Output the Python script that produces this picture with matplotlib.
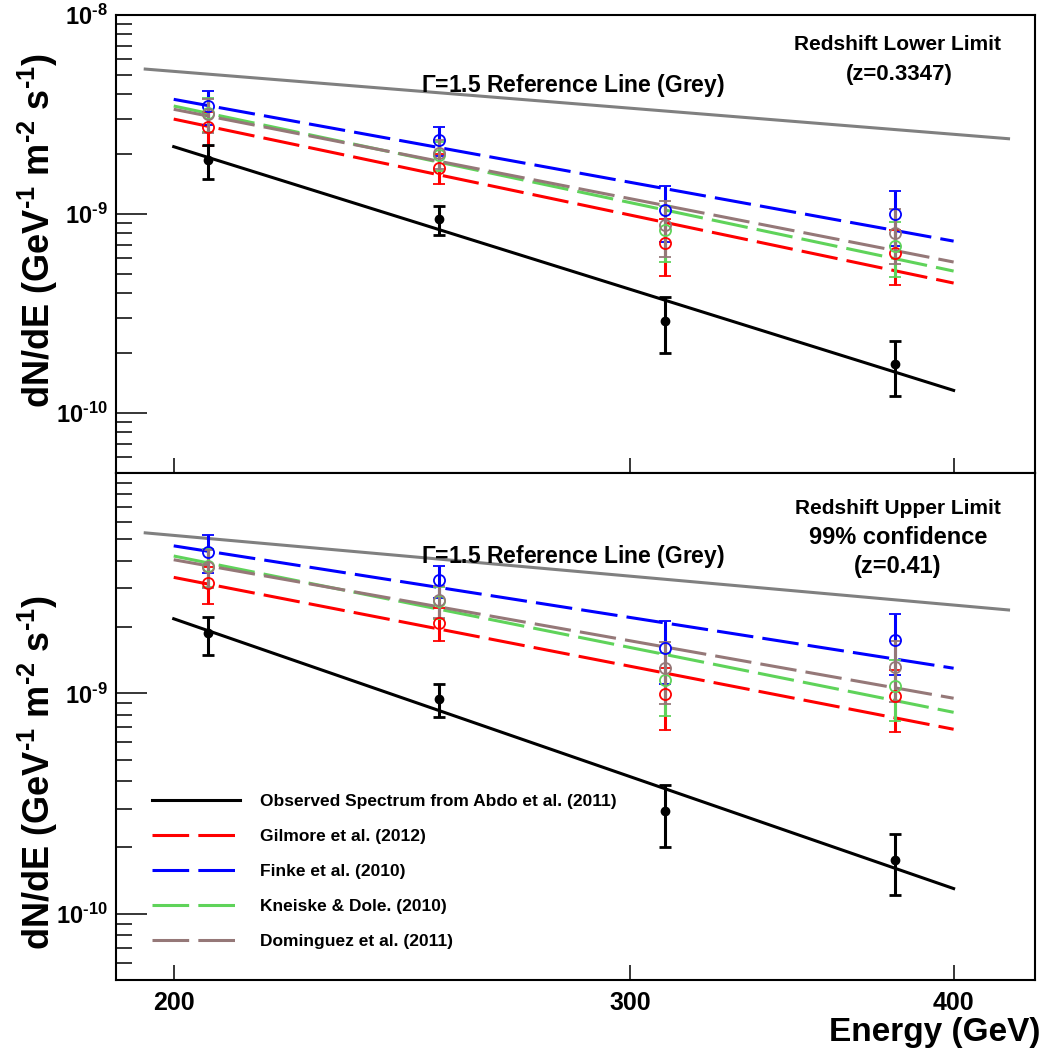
import matplotlib
matplotlib.use("Agg")
import matplotlib.pyplot as plt
import numpy as np
from matplotlib.ticker import FixedLocator, FuncFormatter, NullLocator, NullFormatter

plt.rcParams['font.family'] = ['Liberation Sans', 'DejaVu Sans']
plt.rcParams['font.weight'] = 'bold'
plt.rcParams['mathtext.fontset'] = 'custom'
plt.rcParams['mathtext.rm'] = 'Liberation Sans:bold'
plt.rcParams['mathtext.bf'] = 'Liberation Sans:bold'
plt.rcParams['mathtext.it'] = 'Liberation Sans:bold:italic'

# ---------------- data ----------------
E_data = [206.2, 253.2, 309.5, 379.6]
obs_flux = [1.87e-9, 9.44e-10, 2.91e-10, 1.76e-10]
obs_hi = [2.22e-9, 1.10e-9, 3.84e-10, 2.31e-10]
obs_lo = [1.50e-9, 7.84e-10, 2.00e-10, 1.22e-10]

E_line = [200, 400]
obs_line = [2.18e-9, 1.30e-10]

E_ref = [195, 420]
ref_line = [5.35e-9, 2.39e-9]

model_names = ['Gilmore et al. (2012)', 'Finke et al. (2010)',
               'Kneiske & Dole. (2010)', 'Dominguez et al. (2011)']
model_colors = ['#ff0000', '#0000ff', '#5fd35a', '#957878']

# lower limit panel (z=0.3347)
low_lines = {
    'Gilmore et al. (2012)':   [3.00e-9, 4.50e-10],
    'Finke et al. (2010)':     [3.77e-9, 7.31e-10],
    'Kneiske & Dole. (2010)':  [3.49e-9, 5.17e-10],
    'Dominguez et al. (2011)': [3.36e-9, 5.74e-10],
}
low_points = {
    'Gilmore et al. (2012)':   [2.75e-9, 1.71e-9, 7.13e-10, 6.34e-10],
    'Finke et al. (2010)':     [3.49e-9, 2.36e-9, 1.05e-9, 9.96e-10],
    'Kneiske & Dole. (2010)':  [3.22e-9, 1.98e-9, 8.32e-10, 6.93e-10],
    'Dominguez et al. (2011)': [3.18e-9, 2.03e-9, 8.81e-10, 8.05e-10],
}
# upper limit panel (z=0.41)
up_lines = {
    'Gilmore et al. (2012)':   [3.36e-9, 6.87e-10],
    'Finke et al. (2010)':     [4.67e-9, 1.30e-9],
    'Kneiske & Dole. (2010)':  [4.20e-9, 8.20e-10],
    'Dominguez et al. (2011)': [4.04e-9, 9.50e-10],
}
up_points = {
    'Gilmore et al. (2012)':   [3.17e-9, 2.09e-9, 9.90e-10, 9.68e-10],
    'Finke et al. (2010)':     [4.40e-9, 3.26e-9, 1.61e-9, 1.75e-9],
    'Kneiske & Dole. (2010)':  [3.80e-9, 2.62e-9, 1.15e-9, 1.08e-9],
    'Dominguez et al. (2011)': [3.75e-9, 2.64e-9, 1.30e-9, 1.32e-9],
}

x_ticks = [200, 300, 400]
x_tick_labels = ['200', '300', '400']
y_major = [1e-10, 1e-9, 1e-8]
y_minor = [m * 10.0 ** e for e in (-11, -10, -9) for m in range(2, 10)]

# ---------------- figure ----------------
W, H = 1042, 1055
fig = plt.figure(figsize=(W / 100, H / 100), dpi=100)

def fx(px):
    return px / W

def fy(py):
    return 1 - py / H

L, R = 116, 1035
ax1 = fig.add_axes([fx(L), fy(473), fx(R) - fx(L), fy(15) - fy(473)])
ax2 = fig.add_axes([fx(L), fy(980), fx(R) - fx(L), fy(473) - fy(980)])

obs_arr = np.array(obs_flux)
rel_hi = np.array(obs_hi) / obs_arr
rel_lo = np.array(obs_lo) / obs_arr

DASH = (12, 3)
LW = 2.2
HY = r'\text{-}'


def draw_panel(ax, lines, points):
    ax.plot(E_ref, ref_line, color='#808080', lw=LW, zorder=2)
    h_obs, = ax.plot(E_line, obs_line, color='black', lw=LW, zorder=3,
                     label='Observed Spectrum from Abdo et al. (2011)')
    handles = [h_obs]
    for name, col in zip(model_names, model_colors):
        h, = ax.plot(E_line, lines[name], color=col, lw=LW, dashes=DASH,
                     zorder=3, label=name)
        handles.append(h)
    order = ['Finke et al. (2010)', 'Gilmore et al. (2012)',
             'Kneiske & Dole. (2010)', 'Dominguez et al. (2011)']
    for name in order:
        col = model_colors[model_names.index(name)]
        p = np.array(points[name])
        ax.errorbar(E_data, p, yerr=[p - p * rel_lo, p * rel_hi - p],
                    fmt='o', mfc='none', mec=col, mew=1.3, ms=8,
                    ecolor=col, elinewidth=2.2, capsize=4, capthick=2,
                    zorder=4)
    ax.errorbar(E_data, obs_flux,
                yerr=[obs_arr - np.array(obs_lo), np.array(obs_hi) - obs_arr],
                fmt='o', color='black', ms=6, elinewidth=2.2, capsize=4,
                capthick=2, zorder=5)
    ax.set_xscale('log')
    ax.set_yscale('log')
    ax.set_xlim(190, 430)
    ax.set_ylim(5e-11, 1e-8)
    ax.xaxis.set_major_locator(FixedLocator(x_ticks))
    ax.xaxis.set_minor_locator(NullLocator())
    ax.xaxis.set_minor_formatter(NullFormatter())
    ax.yaxis.set_major_locator(FixedLocator(y_major))
    ax.yaxis.set_minor_locator(FixedLocator(y_minor))
    ax.yaxis.set_minor_formatter(NullFormatter())
    ax.tick_params(axis='y', which='major', direction='in', length=22,
                   width=1.1, left=True, right=False, labelsize=17, pad=6)
    ax.tick_params(axis='y', which='minor', direction='in', length=11.5,
                   width=1.1, left=True, right=False)
    ax.tick_params(axis='x', which='major', direction='in', length=11,
                   width=1.1, bottom=True, top=False, labelsize=18, pad=8)
    for s in ax.spines.values():
        s.set_linewidth(1.5)
    ax.set_ylabel(r'dN/dE (GeV$^{\mathbf{%s1}}$ m$^{\mathbf{%s2}}$ s$^{\mathbf{%s1}}$)'
                  % (HY, HY, HY), fontsize=26, fontweight='bold')
    return handles


def yfmt_top(v, pos):
    e = int(round(np.log10(v)))
    return r'$\mathbf{10^{%s%d}}$' % (HY, -e)


def yfmt_bot(v, pos):
    e = int(round(np.log10(v)))
    if e >= -8:
        return ''
    return r'$\mathbf{10^{%s%d}}$' % (HY, -e)


def xfmt(v, pos):
    for t, lab in zip(x_ticks, x_tick_labels):
        if abs(v - t) < 1e-6:
            return lab
    return ''


draw_panel(ax1, low_lines, low_points)
handles = draw_panel(ax2, up_lines, up_points)

ax1.yaxis.set_major_formatter(FuncFormatter(yfmt_top))
ax2.yaxis.set_major_formatter(FuncFormatter(yfmt_bot))
ax1.tick_params(axis='x', labelbottom=False)
ax2.xaxis.set_major_formatter(FuncFormatter(xfmt))

ax1.yaxis.set_label_coords(-0.061, 0.53)
ax2.yaxis.set_label_coords(-0.061, 0.41)

ax2.set_xlabel('Energy (GeV)', fontsize=24, fontweight='bold')
ax2.xaxis.set_label_coords((1040 - L) / (R - L), -0.072)
ax2.xaxis.label.set_horizontalalignment('right')

# annotations
fig.text(fx(573), fy(85), r'$\Gamma$=1.5 Reference Line (Grey)', fontsize=16.5,
         ha='center', va='center', fontweight='bold')
fig.text(fx(573), fy(557), r'$\Gamma$=1.5 Reference Line (Grey)', fontsize=16.5,
         ha='center', va='center', fontweight='bold')
fig.text(fx(898), fy(45), 'Redshift Lower Limit', fontsize=15, ha='center',
         va='center', fontweight='bold')
fig.text(fx(899), fy(74), '(z=0.3347)', fontsize=16, ha='center',
         va='center', fontweight='bold')
fig.text(fx(898), fy(508), 'Redshift Upper Limit', fontsize=15, ha='center',
         va='center', fontweight='bold')
fig.text(fx(898), fy(538), '99% confidence', fontsize=17, ha='center',
         va='center', fontweight='bold')
fig.text(fx(898), fy(567), '(z=0.41)', fontsize=17, ha='center',
         va='center', fontweight='bold')

leg = ax2.legend(handles=handles, loc='upper left',
                 bbox_to_anchor=((152 - L) / (R - L), (980 - 794) / 507),
                 frameon=False, fontsize=12.5, handlelength=5.06,
                 handletextpad=1.15, labelspacing=1.14, borderpad=0,
                 borderaxespad=0)

fig.savefig('out.png', dpi=100)
